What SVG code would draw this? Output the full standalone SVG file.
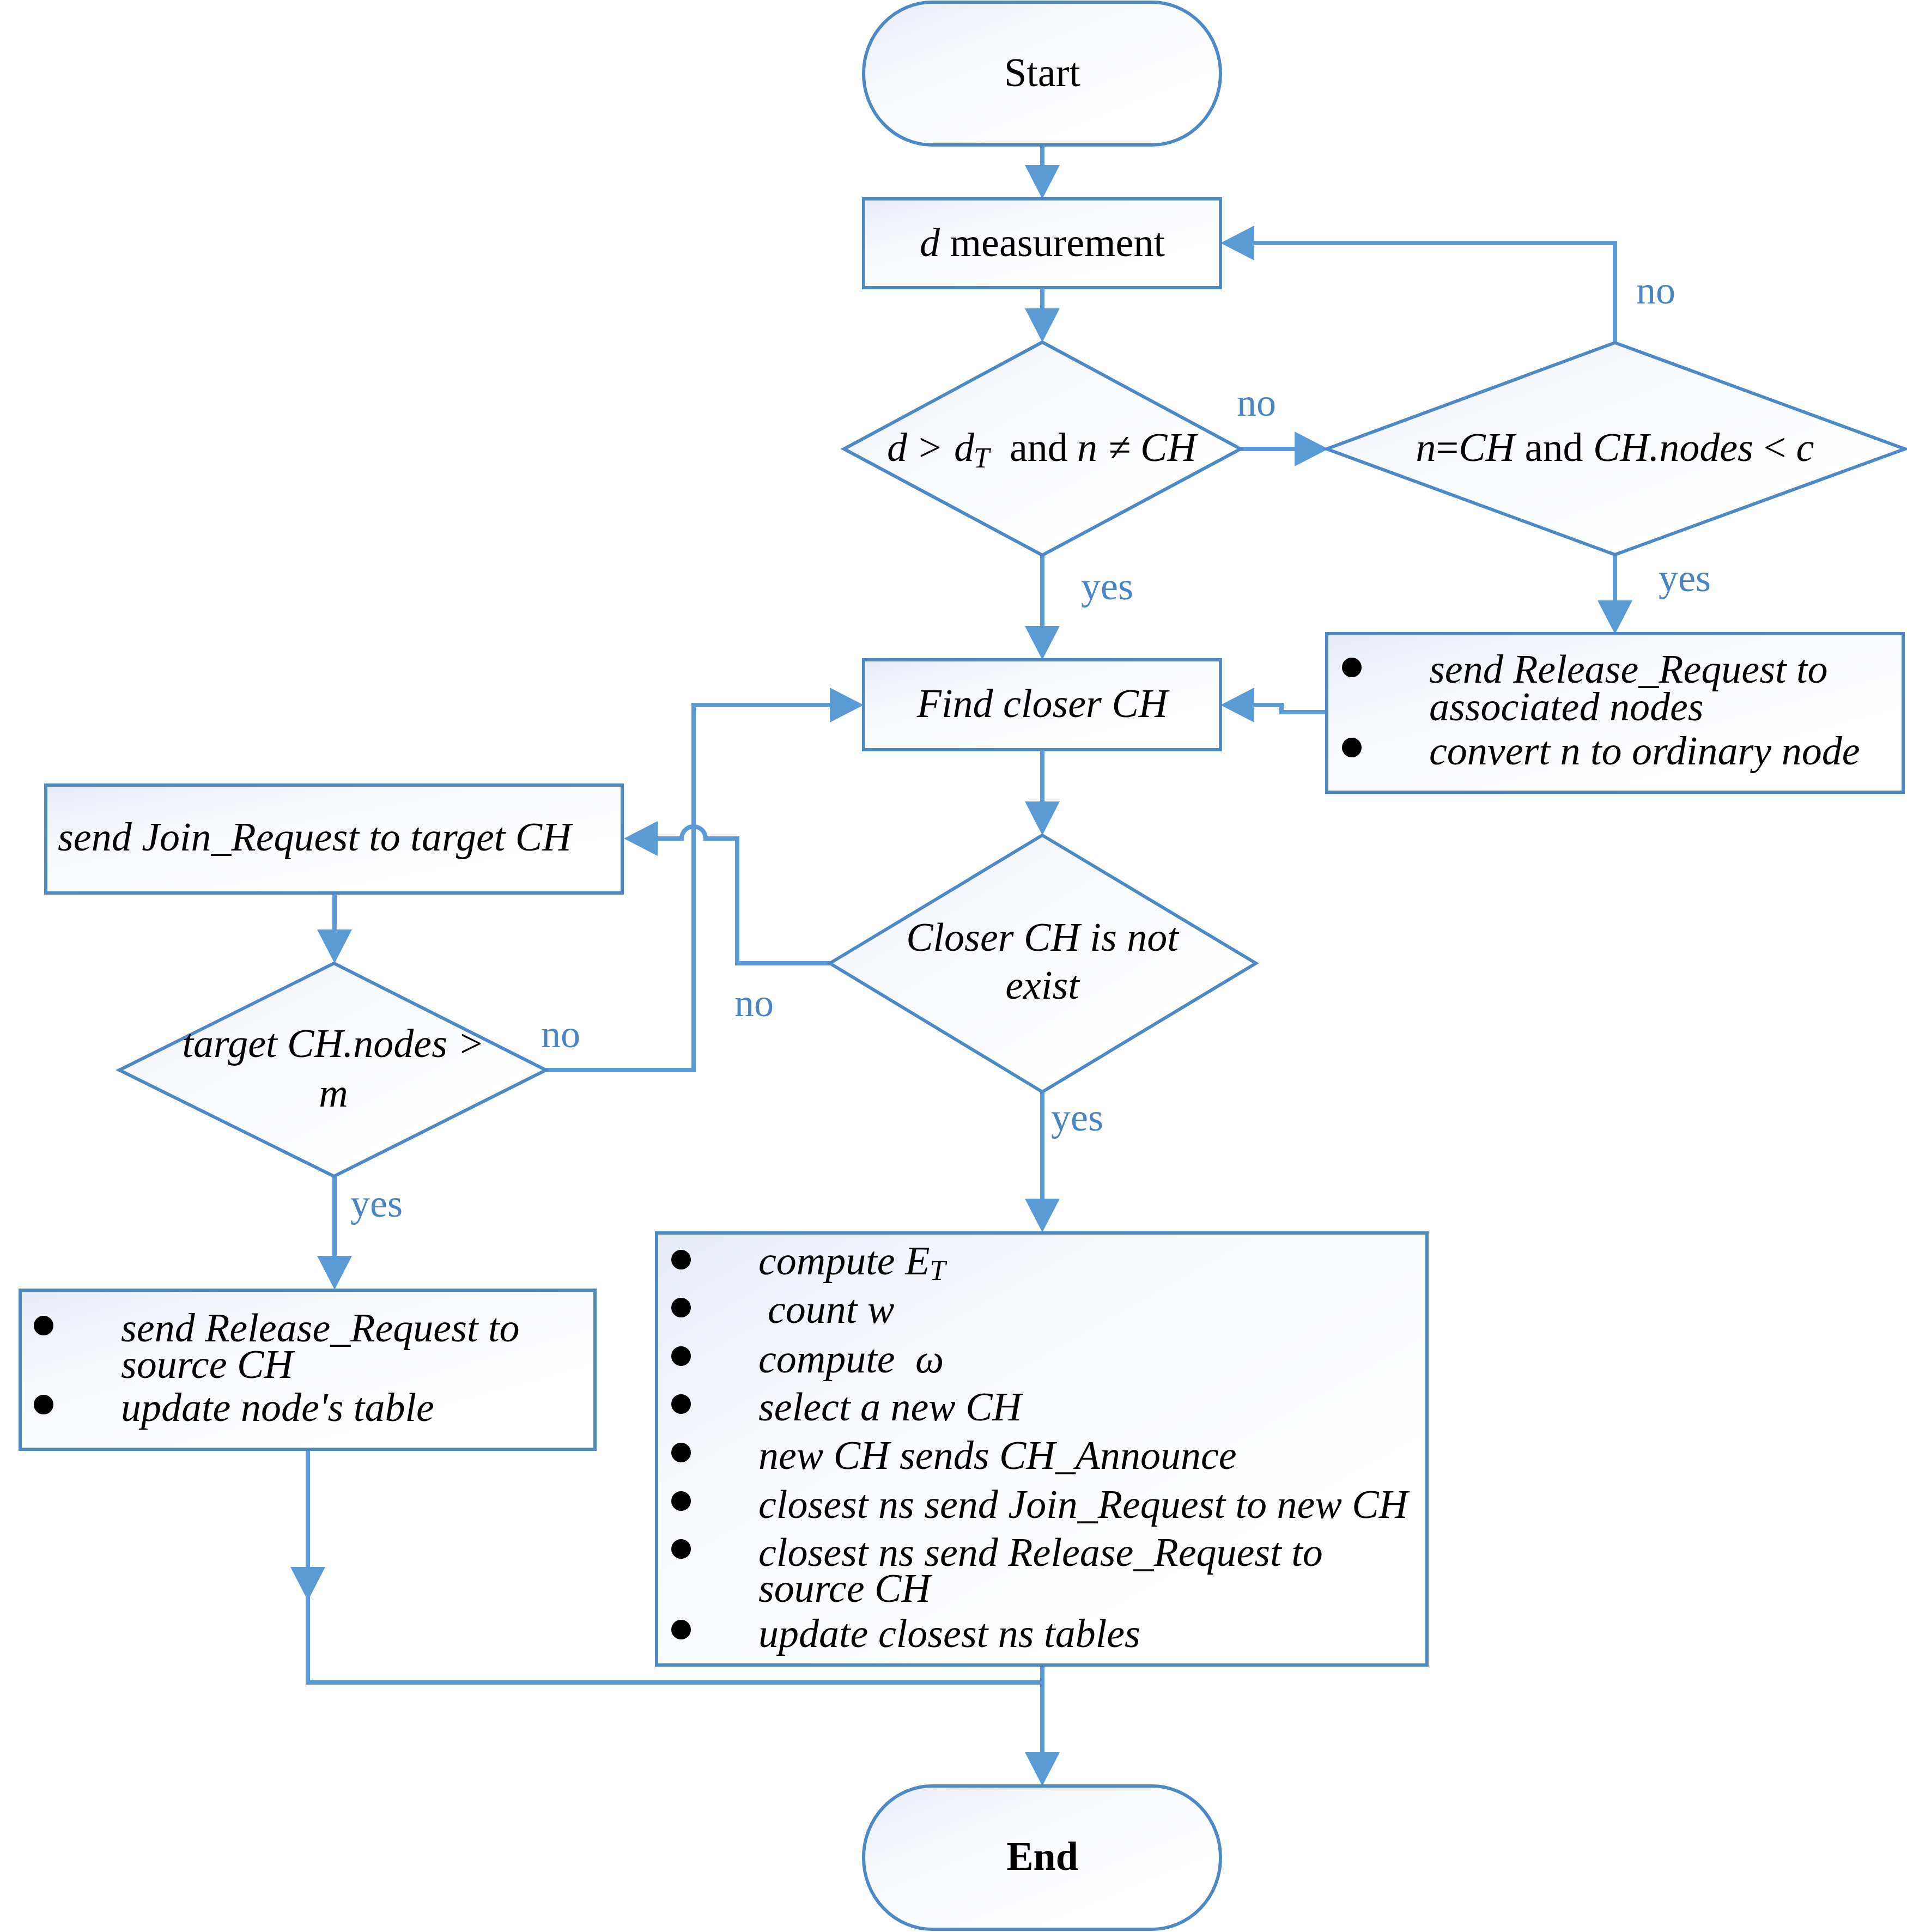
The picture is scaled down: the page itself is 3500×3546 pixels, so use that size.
<svg xmlns="http://www.w3.org/2000/svg" width="3500" height="3546" viewBox="0 0 3500 3546">
<defs>
<linearGradient id="g" x1="0" y1="0" x2="1" y2="1">
<stop offset="0" stop-color="#e7ebf6"/>
<stop offset="0.3" stop-color="#f6f8fc"/>
<stop offset="0.75" stop-color="#ffffff"/>
</linearGradient>
<marker id="ah" markerUnits="userSpaceOnUse" markerWidth="62" markerHeight="64" refX="42" refY="32" orient="auto" viewBox="0 0 62 64">
<path d="M0,0 L62,32 L0,64 z" fill="#5b9bd5"/>
</marker>
<style>
.shape{fill:url(#g);stroke:#4d89c4;stroke-width:6}
.conn{fill:none;stroke:#5b9bd5;stroke-width:8}
.arr{marker-end:url(#ah)}
text{font-family:"Liberation Serif","Times New Roman",serif;font-size:74px;fill:#000}
.c{text-anchor:middle}
.i{font-style:italic}
.lbl{fill:#4a84c2;font-size:72px}
.sub{font-size:52px;font-style:italic}
.dot{fill:#000}
</style>
</defs>
<rect width="3500" height="3546" fill="#ffffff"/>

<g id="connectors">
<path class="conn arr" d="M1913,266 V345"/>
<path class="conn arr" d="M1913,528 V608"/>
<path class="conn arr" d="M2277,824 H2418"/>
<path class="conn arr" d="M2964,629 V446 H2260"/>
<path class="conn arr" d="M1913,1019 V1191"/>
<path class="conn arr" d="M2964,1018 V1144"/>
<path class="conn arr" d="M2435,1307 H2352 V1294 H2260"/>
<path class="conn arr" d="M1913,1376 V1513"/>
<path class="conn arr" d="M1523,1768 H1353 V1539 H1295 A22,22 0 0 0 1251,1539 H1165"/>
<path class="conn arr" d="M614,1639 V1748"/>
<path class="conn arr" d="M1002,1964 H1273 V1294 H1565"/>
<path class="conn arr" d="M614,2159 V2347"/>
<path class="conn arr" d="M1913,2005 V2242"/>
<path class="conn arr" d="M565,2661 V2918"/>
<path class="conn" d="M565,2930 V3088 H1913"/>
<path class="conn arr" d="M1913,3056 V3258"/>
<text class="lbl" x="2270" y="763">no</text>
<text class="lbl" x="3003" y="557">no</text>
<text class="lbl" x="1984" y="1100">yes</text>
<text class="lbl" x="3044" y="1085">yes</text>
<text class="lbl" x="1348" y="1865">no</text>
<text class="lbl" x="993" y="1922">no</text>
<text class="lbl" x="643" y="2233">yes</text>
<text class="lbl" x="1929" y="2075">yes</text>
</g>

<g id="start">
<rect class="shape" x="1585" y="4" width="655" height="262" rx="126" ry="131"/>
<text class="c" x="1913" y="158">Start</text>
</g>

<g id="d-measurement">
<rect class="shape" x="1585" y="365" width="655" height="163"/>
<text class="c" x="1913" y="470"><tspan class="i">d</tspan> measurement</text>
</g>

<g id="decision1">
<polygon class="shape" points="1913,628 2277,824 1913,1019 1549,824"/>
<text y="846"><tspan class="i" x="1628">d</tspan><tspan x="1686">&gt;</tspan><tspan class="i" x="1751">d</tspan><tspan class="sub" x="1787" dy="12">T</tspan><tspan x="1853" dy="-12">and</tspan><tspan class="i" x="1977">n</tspan><tspan x="2035">≠</tspan><tspan class="i" x="2093">CH</tspan></text>
</g>

<g id="decision2">
<polygon class="shape" points="2964,629 3496,824 2964,1018 2435,824"/>
<text class="c" x="2964" y="846"><tspan class="i">n</tspan>=<tspan class="i">CH</tspan> and <tspan class="i">CH.nodes</tspan> &lt; <tspan class="i">c</tspan></text>
</g>

<g id="release-assoc">
<rect class="shape" x="2435" y="1163" width="1058" height="291"/>
<circle class="dot" cx="2481" cy="1225" r="18"/>
<circle class="dot" cx="2481" cy="1372" r="18"/>
<text class="i" x="2623" y="1253">send Release_Request to</text>
<text class="i" x="2623" y="1322">associated nodes</text>
<text class="i" x="2623" y="1403">convert n to ordinary node</text>
</g>

<g id="find-closer">
<rect class="shape" x="1585" y="1211" width="655" height="165"/>
<text class="c i" x="1913" y="1316">Find closer CH</text>
</g>

<g id="join-request">
<rect class="shape" x="84" y="1441" width="1058" height="198"/>
<text class="i" x="106" y="1561">send Join_Request to target CH</text>
</g>

<g id="closer-not-exist">
<polygon class="shape" points="1913,1533 2305,1768 1913,2004 1523,1768"/>
<text class="c i" x="1913" y="1745">Closer CH is not</text>
<text class="c i" x="1913" y="1833">exist</text>
</g>

<g id="target-nodes">
<polygon class="shape" points="613,1768 1002,1964 613,2159 219,1964"/>
<text class="c i" x="612" y="1940">target CH.nodes &gt;</text>
<text class="c i" x="612" y="2031">m</text>
</g>

<g id="release-source">
<rect class="shape" x="37" y="2368" width="1055" height="292"/>
<circle class="dot" cx="80" cy="2433" r="18"/>
<circle class="dot" cx="80" cy="2578" r="18"/>
<text class="i" x="222" y="2462">send Release_Request to</text>
<text class="i" x="222" y="2529">source CH</text>
<text class="i" x="222" y="2608">update node's table</text>
</g>

<g id="new-ch-box">
<rect class="shape" x="1205" y="2263" width="1414" height="793"/>
<circle class="dot" cx="1250" cy="2312" r="18"/>
<circle class="dot" cx="1250" cy="2400" r="18"/>
<circle class="dot" cx="1250" cy="2489" r="18"/>
<circle class="dot" cx="1250" cy="2577" r="18"/>
<circle class="dot" cx="1250" cy="2666" r="18"/>
<circle class="dot" cx="1250" cy="2755" r="18"/>
<circle class="dot" cx="1250" cy="2843" r="18"/>
<circle class="dot" cx="1250" cy="2991" r="18"/>
<text class="i" x="1392" y="2339">compute E<tspan class="sub" dy="10">T</tspan></text>
<text class="i" x="1409" y="2428">count w</text>
<text class="i" y="2519"><tspan x="1392">compute</tspan><tspan x="1680">ω</tspan></text>
<text class="i" x="1392" y="2607">select a new CH</text>
<text class="i" x="1392" y="2696">new CH sends CH_Announce</text>
<text class="i" x="1392" y="2786">closest ns send Join_Request to new CH</text>
<text class="i" x="1392" y="2874">closest ns send Release_Request to</text>
<text class="i" x="1392" y="2940">source CH</text>
<text class="i" x="1392" y="3023">update closest ns tables</text>
</g>

<g id="end">
<rect class="shape" x="1585" y="3278" width="655" height="263" rx="126" ry="131"/>
<text class="c" x="1913" y="3432" font-weight="bold">End</text>
</g>
</svg>
